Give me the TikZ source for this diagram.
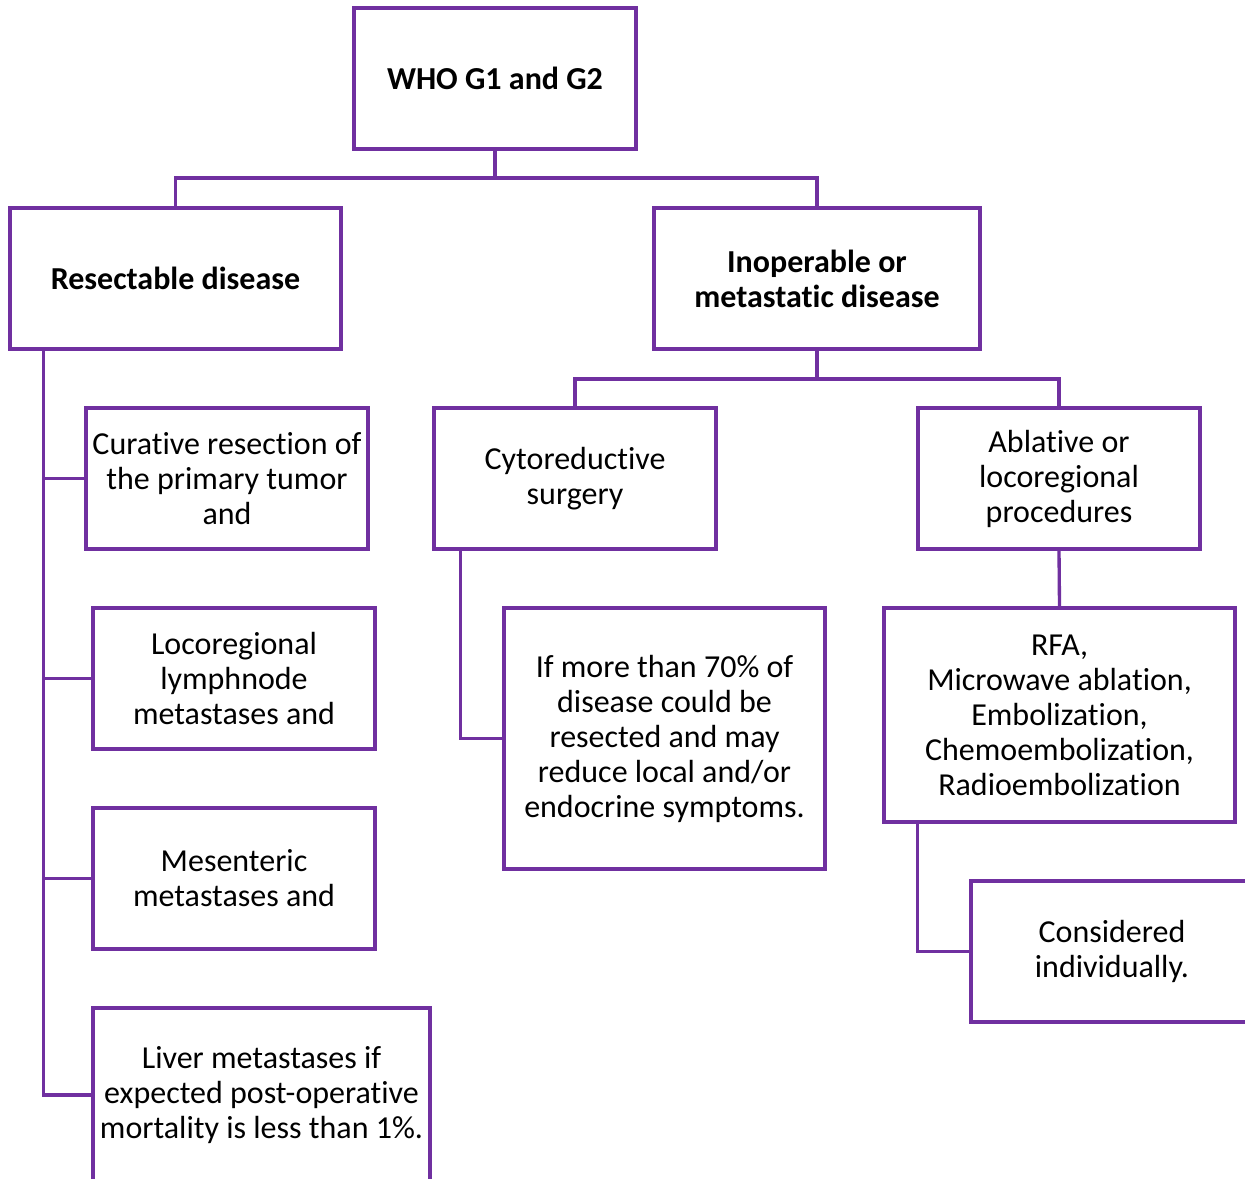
\documentclass[tikz,border=0pt]{standalone}
\usepackage{fontspec}
\setmainfont{Carlito}[Ligatures={NoCommon,NoContextual}]
\usetikzlibrary{calc}
\definecolor{pur}{HTML}{7030A0}
\tikzset{
  box/.style={draw=pur, line width=2.5pt, align=center, inner sep=0pt,
    font=\fontsize{24}{26.25}\selectfont, text=black},
  boldbox/.style={box, font=\fontsize{24}{26.25}\selectfont\bfseries},
  conn/.style={draw=pur, line width=2.5pt}
}
\begin{document}
\begin{tikzpicture}[x=0.75pt,y=-0.75pt]
\useasboundingbox (0,0) rectangle (1245,1178);
\clip (0,0) rectangle (1245,1178);
\node[boldbox, minimum width=211.5pt, minimum height=105.75pt] (top) at (495,78.5) {WHO G1 and G2};
\node[boldbox, minimum width=248.25pt, minimum height=105.75pt] (res) at (175.5,278.5) {Resectable disease};
\node[boldbox, minimum width=244.5pt, minimum height=105.75pt] (inop) at (817,278.5) {Inoperable or\\metastatic disease};
\node[box, minimum width=211.5pt, minimum height=105.75pt] (cyto) at (575,478.5) {Cytoreductive\\surgery};
\node[box, minimum width=211.5pt, minimum height=105.75pt] (abl) at (1059,478.5) {Ablative or\\locoregional\\procedures};
\node[box, minimum width=211.5pt, minimum height=105.75pt] (cur) at (227,478.5) {Curative resection of\\the primary tumor\\and};
\node[box, minimum width=211.5pt, minimum height=105.75pt] (loco) at (234,678.5) {Locoregional\\lymphnode\\metastases and};
\node[box, minimum width=211.5pt, minimum height=105.75pt] (mes) at (234,878.5) {Mesenteric\\metastases and};
\node[box, minimum width=252.75pt, minimum height=130.5pt] (liver) at (261.5,1095) {Liver metastases if\\expected post-operative\\mortality is less than 1\%.};
\node[box, minimum width=240.75pt, minimum height=195.75pt] (ifmore) at (664.5,738.5) {If more than 70\% of\\disease could be\\resected and may\\reduce local and/or\\endocrine symptoms.};
\node[box, minimum width=263.25pt, minimum height=160.5pt] (rfa) at (1059.5,715) {RFA,\\Microwave ablation,\\Embolization,\\Chemoembolization,\\Radioembolization};
\node[box, minimum width=211.5pt, minimum height=105.75pt] (cons) at (1112,951.5) {Considered\\individually.};
\coordinate (j1) at (495,178);
\coordinate (j2) at (817,379);
\coordinate (busL) at ($(res.south west)+(35,0)$);
\coordinate (busC) at ($(cyto.south west)+(28,0)$);
\coordinate (busR) at ($(rfa.south west)+(35,0)$);
\draw[conn] (top.south) -- (j1);
\draw[conn] (res.north) |- (j1) -| (inop.north);
\draw[conn] (inop.south) -- (j2);
\draw[conn] (cyto.north) |- (j2) -| (abl.north);
\draw[conn] (busL) |- (cur.west);
\draw[conn] (busL) |- (loco.west);
\draw[conn] (busL) |- (mes.west);
\draw[conn] (busL) |- (liver.west);
\draw[conn] (busC) |- (ifmore.west);
\draw[conn] (abl.south) -- (rfa.north);
\draw[conn] (busR) |- (cons.west);
\end{tikzpicture}
\end{document}
